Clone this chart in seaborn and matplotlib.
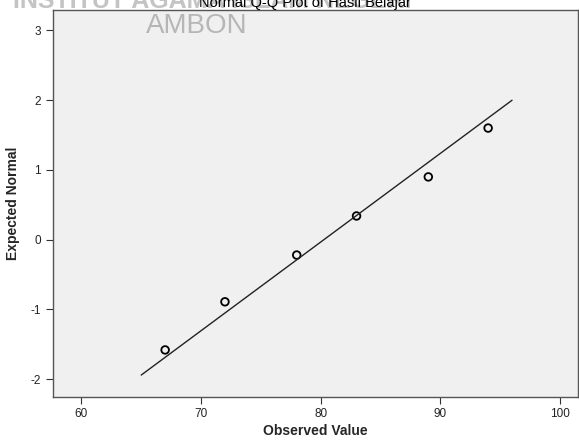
import numpy
import pandas
import matplotlib
matplotlib.use("Agg")
import matplotlib.pyplot as plt
import seaborn

# nilai dari gambar
observed = [67, 72, 78, 83, 89, 94]
expected = [-1.58, -0.89, -0.22, 0.34, 0.90, 1.60]

# garis normal (mean dan sd)
line_x = [65, 96]
mean_val = 80.27
sd_val = 7.87

x_ticks = [60, 70, 80, 90, 100]
y_ticks = [-2, -1, 0, 1, 2, 3]

seaborn.set_style("ticks")
plt.rcParams['font.family'] = ['Liberation Sans', 'DejaVu Sans']
plt.rcParams['axes.unicode_minus'] = False

df = pandas.DataFrame({'Observed Value': observed, 'Expected Normal': expected})
line_df = pandas.DataFrame({'x': line_x,
                            'y': [(v - mean_val) / sd_val for v in line_x]})

fig = plt.figure(figsize=(5.79, 4.41), dpi=100)
ax = fig.add_axes([0.091, 0.1005, 0.907, 0.8765])
ax.set_facecolor('#f0f0f0')

seaborn.lineplot(x='x', y='y', data=line_df, color='#222222', linewidth=1.0, ax=ax)
seaborn.scatterplot(x='Observed Value', y='Expected Normal', data=df, ax=ax,
                    facecolor='none', edgecolor='black', linewidth=1.3, s=30)

ax.set_xlim(57.6, 101.5)
ax.set_ylim(-2.25, 3.29)
ax.set_xticks(x_ticks)
ax.set_yticks(y_ticks)
ax.tick_params(labelsize=8.5, length=5, width=0.8, color='#333333', labelcolor='#222222')
ax.set_xlabel('Observed Value', fontsize=10, fontweight='bold')
ax.set_ylabel('Expected Normal', fontsize=10, fontweight='bold')
ax.xaxis.set_label_coords(0.5, -0.07)
ax.yaxis.set_label_coords(-0.062, 0.5)
for s in ax.spines.values():
    s.set_color('#555555')
    s.set_linewidth(1.0)

# watermark
fig.text(212 / 579, 1 - 8 / 441, 'INSTITUT AGAMA ISLAM NEGERI', ha='center', va='baseline',
         fontsize=18, fontweight='bold', color='#b0b0b0', alpha=0.75)
fig.text(197 / 579, 1 - 33 / 441, 'AMBON', ha='center', va='baseline',
         fontsize=20, color='#a8a8a8', alpha=0.8)

fig.text(305 / 579, 1 - 7 / 441, 'Normal Q-Q Plot of Hasil Belajar', ha='center', va='baseline',
         fontsize=10.5, color='black')

plt.savefig('out.png', dpi=100)
